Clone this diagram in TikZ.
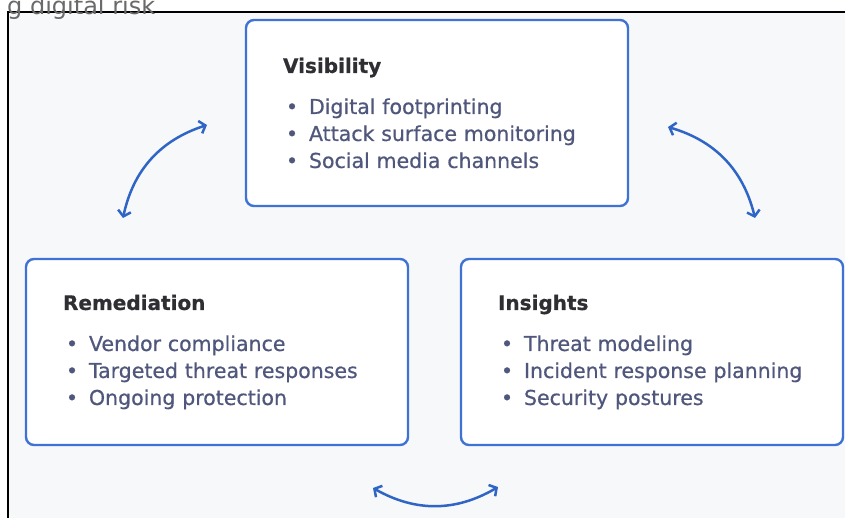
\documentclass[tikz,border=0pt]{standalone}
\usepackage{fontspec}
\setmainfont{DejaVu Sans}
\usepackage{tikz}
\usetikzlibrary{arrows.meta}

\definecolor{cardblue}{HTML}{3E72D4}
\definecolor{arrowblue}{HTML}{2F66C6}
\definecolor{pagegray}{HTML}{F7F8FA}
\definecolor{headgray}{HTML}{2E2E33}
\definecolor{itemgray}{HTML}{50577C}
\definecolor{fadegray}{HTML}{6A6A6A}

\newcommand{\bul}[1]{\makebox[26pt][l]{\hspace{3pt}\textbullet}#1}
\newcommand{\cardhead}[1]{{\fontsize{20}{27}\bfseries\color{headgray}#1}\\[14pt]}

\begin{document}
\begin{tikzpicture}[x=1pt,y=-1pt,
                    >={Straight Barb[length=5.5pt,width=13pt]}]
  \tikzstyle{card}=[draw=cardblue,line width=2.4pt,rounded corners=8pt,fill=white,
                    minimum height=186pt,text width=308pt,inner xsep=37pt,align=left,
                    text=itemgray,font=\fontsize{20.5}{27}\selectfont\addfontfeature{FakeBold=0.6}]
  \tikzstyle{link}=[<->,draw=arrowblue,line width=2.5pt]

  \useasboundingbox (0,0) rectangle (845,518);
  \fill[white] (0,0) rectangle (845,518);
  \fill[pagegray] (8,12) rectangle (845,518);
  \draw[line width=2pt] (845,12) -- (8,12) -- (8,518);
  \node[anchor=base west,inner sep=0pt,text=fadegray,font=\fontsize{24}{24}\selectfont]
    (title) at (7,15) {g digital risk};

  \node[card] (vis) at (437,113) {\cardhead{Visibility}
    \bul{Digital footprinting}\\
    \bul{Attack surface monitoring}\\
    \bul{Social media channels}};
  \node[card] (rem) at (217,352) {\cardhead{Remediation}
    \bul{Vendor compliance}\\
    \bul{Targeted threat responses}\\
    \bul{Ongoing protection}};
  \node[card] (ins) at (652,352) {\cardhead{Insights}
    \bul{Threat modeling}\\
    \bul{Incident response planning}\\
    \bul{Security postures}};

  \coordinate (lv1) at (123,218);
  \coordinate (lv2) at (207,125);
  \coordinate (rv1) at (668,127);
  \coordinate (rv2) at (755,218);
  \coordinate (bt1) at (373,488);
  \coordinate (bt2) at (498,487);

  \path (lv1) edge[link,bend left=30]  (lv2)
        (rv1) edge[link,bend left=30]  (rv2)
        (bt1) edge[link,bend right=30] (bt2);
\end{tikzpicture}
\end{document}
